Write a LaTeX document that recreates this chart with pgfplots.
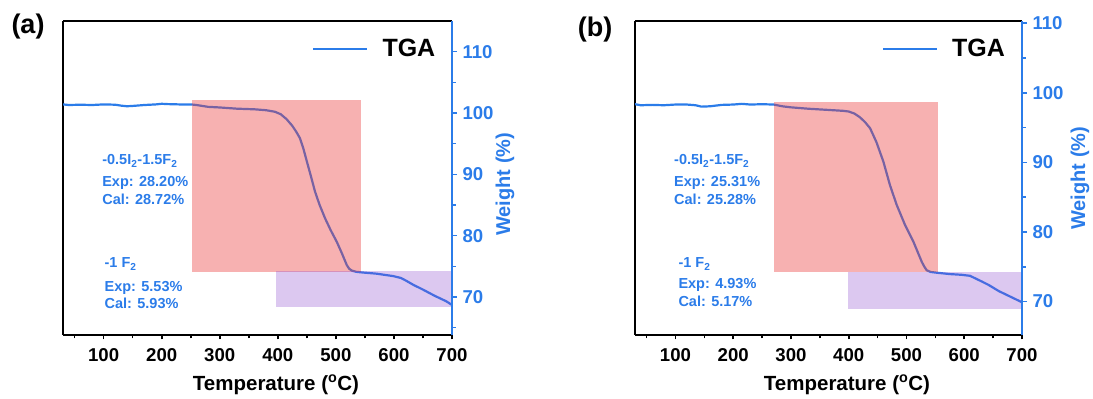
\documentclass[border=0pt]{standalone}
\usepackage{pgfplots}
\pgfplotsset{compat=1.18}
\usepackage{fontspec}
\setmainfont{Liberation Sans}
\definecolor{tgablue}{RGB}{43,124,233}
\definecolor{redbox}{RGB}{236,60,60}
\definecolor{purplebox}{RGB}{138,72,205}

\pgfplotsset{
  framestyle/.style={
    scale only axis, height=314pt,
    xmin=30, xmax=700,
    axis x line*=box, axis y line*=left,
    axis line style={black, line width=2.6pt, -},
    xtick={100,200,...,700}, minor xtick={50,150,...,650},
    xtick pos=left, xtick align=outside,
    ytick=\empty,
    major tick length=4.5pt, minor tick length=3.5pt,
    tick style={black, line width=1.6pt},
    xticklabel style={font=\fontsize{18.6}{18.6}\selectfont\bfseries, yshift=-5pt},
    /pgf/number format/assume math mode=true,
    legend image code/.code={\draw[#1] (0pt,0pt) -- (54pt,0pt);},
    legend style={draw=none, fill=none, inner sep=0pt, outer sep=0pt,
      font=\fontsize{25}{25}\selectfont\bfseries, anchor=east,
      nodes={inner sep=0pt}, column sep=14pt},
  },
  rightstyle/.style={
    scale only axis, height=314pt,
    xmin=30, xmax=700,
    axis x line=none, axis y line*=right,
    y axis line style={tgablue, line width=2.2pt, -},
    ytick={70,80,...,110}, minor ytick={65,75,...,105},
    ytick align=outside, yticklabel pos=right, ytick pos=right,
    major tick length=5pt, minor tick length=3.5pt,
    tick style={tgablue, line width=1.6pt},
    yticklabel style={text=tgablue, font=\fontsize{18.6}{18.6}\selectfont\bfseries, xshift=2pt},
    /pgf/number format/assume math mode=true,
  },
}

\begin{document}
\begin{tikzpicture}
\useasboundingbox (0pt,0pt) rectangle (1093pt,399pt);

% ---------------- panel (a) ----------------
\begin{axis}[framestyle, width=389pt, at={(63pt,64pt)}, anchor=south west,
  ymin=63.8, ymax=115,
  legend style={at={(0.957,0.911)}}]
\addplot[tgablue, line width=2.2pt] coordinates {
(30,101.4) (40,101.3) (60,101.35) (80,101.3) (100,101.4) (120,101.35) (130,101.2)
(140,101.1) (150,101.15) (170,101.3) (190,101.4) (200,101.5) (210,101.45) (230,101.4)
(250,101.4) (260,101.3) (280,101.0) (300,100.9) (330,100.7) (360,100.6) (380,100.45)
(395,100.2) (405,99.8) (415,99.0) (425,97.9) (432,96.9) (438,95.9) (444,94.2)
(450,92.1) (457,89.7) (464,87.2) (472,85.0) (481.5,82.8) (491,80.9) (501.5,79.0)
(510,77.2) (518.8,75.2) (523,74.6) (527.5,74.3) (535,74.1) (545,74.0) (570,73.8)
(599,73.4) (612,73.1) (622,72.6) (633,72.0) (650,71.2) (670,70.2) (690,69.3) (700,68.7)};
\addlegendentry{TGA}
\addplot[draw=none, fill=redbox, fill opacity=0.4, forget plot] coordinates {
(252.4,74.1) (543,74.1) (543,102.1) (252.4,102.1)} -- cycle;
\addplot[draw=none, fill=purplebox, fill opacity=0.3, forget plot] coordinates {
(397,68.4) (700,68.4) (700,74.2) (397,74.2)} -- cycle;
\end{axis}
\begin{axis}[rightstyle, width=389pt, at={(63pt,64pt)}, anchor=south west,
  ymin=63.8, ymax=115]
\end{axis}

% ---------------- panel (b) ----------------
\begin{axis}[framestyle, width=387pt, at={(635pt,64pt)}, anchor=south west,
  ymin=65.2, ymax=110.3,
  legend style={at={(0.956,0.911)}}]
\addplot[tgablue, line width=2.2pt] coordinates {
(30,98.35) (40,98.2) (60,98.25) (80,98.2) (100,98.3) (120,98.3) (135,98.2)
(145,98.0) (160,98.05) (180,98.25) (200,98.3) (215,98.4) (230,98.3) (250,98.35)
(270,98.3) (285,98.05) (300,97.9) (330,97.7) (360,97.55) (390,97.4) (400,97.3)
(410,97.0) (419,96.5) (428,95.8) (437,94.9) (448,92.9) (460,90.1) (471.5,86.7)
(483,83.9) (497.5,81.0) (512,78.6) (520,77.0) (526.5,75.7) (531,75.0) (535,74.5)
(542,74.25) (552,74.15) (575,73.95) (595,73.85) (610,73.7) (620,73.3) (630,72.9)
(642,72.4) (660,71.5) (680,70.7) (700,69.9)};
\addlegendentry{TGA}
\addplot[draw=none, fill=redbox, fill opacity=0.4, forget plot] coordinates {
(271.4,74.2) (554.5,74.2) (554.5,98.6) (271.4,98.6)} -- cycle;
\addplot[draw=none, fill=purplebox, fill opacity=0.3, forget plot] coordinates {
(398.4,68.9) (700,68.9) (700,74.2) (398.4,74.2)} -- cycle;
\end{axis}
\begin{axis}[rightstyle, width=387pt, at={(635pt,64pt)}, anchor=south west,
  ymin=65.2, ymax=110.3]
\end{axis}

% ---------------- labels ----------------
\begin{scope}[every node/.style={inner sep=0pt}]
\node[font=\fontsize{27}{27}\selectfont\bfseries] at (28pt,372.3pt) {(a)};
\node[font=\fontsize{27}{27}\selectfont\bfseries] at (595pt,369pt) {(b)};

\node[font=\fontsize{20.5}{20.5}\selectfont\bfseries] at (276pt,14pt) {Temperature (\textsuperscript{o}C)};
\node[font=\fontsize{20.5}{20.5}\selectfont\bfseries] at (847pt,14pt) {Temperature (\textsuperscript{o}C)};

\node[font=\fontsize{20}{20}\selectfont\bfseries, text=tgablue, rotate=90] at (505pt,214.8pt) {Weight (\%)};
\node[font=\fontsize{20}{20}\selectfont\bfseries, text=tgablue, rotate=90] at (1080pt,220.7pt) {Weight (\%)};

\begin{scope}[every node/.append style={font=\fontsize{14.5}{14.5}\selectfont\bfseries, text=tgablue, anchor=base west}]
% (a)
\node at (102.1pt,234pt) {-0.5I\textsubscript{2}-1.5F\textsubscript{2}};
\node at (102.1pt,212.5pt) {Exp: 28.20\%};
\node at (102.1pt,194pt) {Cal: 28.72\%};
\node at (104.4pt,131pt) {-1 F\textsubscript{2}};
\node at (104.4pt,107.5pt) {Exp: 5.53\%};
\node at (104.4pt,90.7pt) {Cal: 5.93\%};
% (b)
\node at (674pt,234pt) {-0.5I\textsubscript{2}-1.5F\textsubscript{2}};
\node at (674pt,212.5pt) {Exp: 25.31\%};
\node at (674pt,194pt) {Cal: 25.28\%};
\node at (678.3pt,131pt) {-1 F\textsubscript{2}};
\node at (678.3pt,110.7pt) {Exp: 4.93\%};
\node at (678.3pt,92.3pt) {Cal: 5.17\%};
\end{scope}
\end{scope}
\end{tikzpicture}
\end{document}
